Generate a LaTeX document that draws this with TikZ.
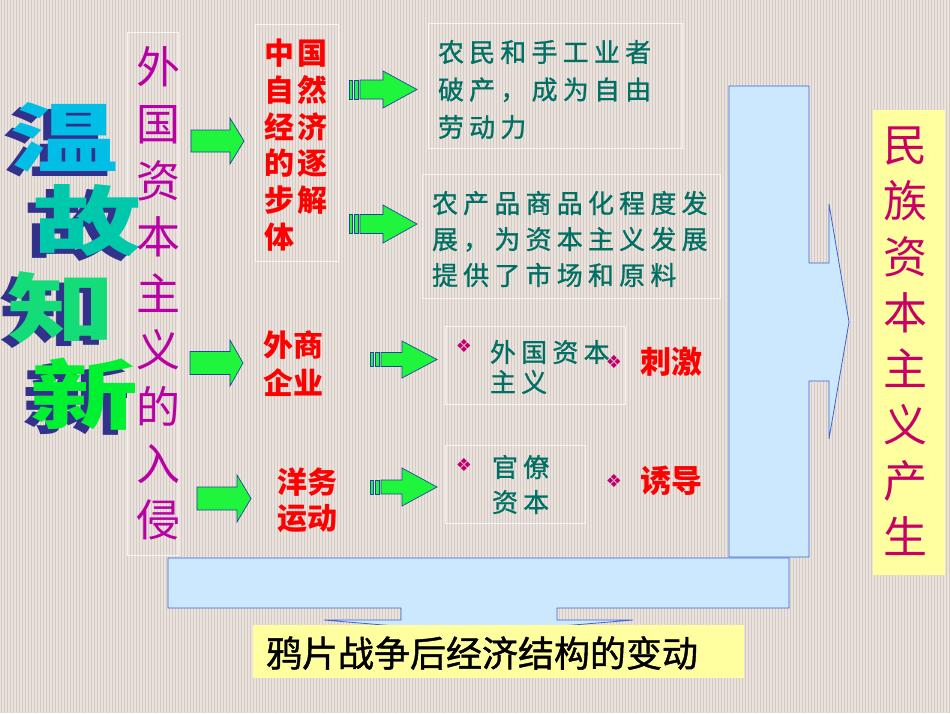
\documentclass[tikz,border=0pt]{standalone}
\usepackage{fontspec}
\newfontfamily\cjk{Noto Sans CJK SC}
\newfontfamily\cjkfb[FakeBold=1.2]{Noto Sans CJK SC}
\newfontfamily\cjkls[LetterSpace=20,FakeBold=1]{Noto Sans CJK SC}
\newfontfamily\cjkred[LetterSpace=10]{Noto Sans CJK SC}
\newfontfamily\dejavu{DejaVu Sans}
\definecolor{bgc}{RGB}{234,226,220}
\definecolor{stripec}{RGB}{214,202,196}
\definecolor{lblue}{RGB}{204,232,255}
\definecolor{bline}{RGB}{60,100,210}
\definecolor{gfill}{RGB}{30,245,60}
\definecolor{gline}{RGB}{30,70,160}
\definecolor{magc}{RGB}{185,0,165}
\definecolor{tealc}{RGB}{0,112,100}
\definecolor{bulc}{RGB}{190,0,110}
\definecolor{crim}{RGB}{200,0,100}
\definecolor{ylw}{RGB}{255,255,160}
\definecolor{shad}{RGB}{50,50,140}
\definecolor{wA}{RGB}{0,190,230}
\definecolor{wB}{RGB}{0,200,170}
\definecolor{wC}{RGB}{20,220,120}
\definecolor{wD}{RGB}{0,240,50}
\tikzset{
  garrow/.style={fill=gfill,draw=gline,line width=0.7pt,line join=miter},
  barrow/.style={fill=lblue,draw=bline,line width=0.8pt},
  framebox/.style={draw=white,line width=0.6pt,draw opacity=0.7},
  txt/.style={inner sep=0pt,outer sep=0pt},
  wgk/.style={txt,font=\fontsize{76}{76}\selectfont\cjk\bfseries},
  bul/.style={txt,text=bulc,font=\fontsize{18}{18}\selectfont\dejavu},
}
% one title character with its shadow, in a single text
\newcommand\titlechar[2]{%
  \scalebox{1.42}[1]{\makebox[0pt][l]{\hspace{-5pt}\raisebox{-5pt}{\textcolor{shad}{#2}}}\textcolor{#1}{#2}}}
\newcommand\myGarrow[6]{%
  \draw[garrow] (#1,#4-#6) -- (#3,#4-#6) -- (#3,#4-#5) -- (#2,#4) -- (#3,#4+#5) -- (#3,#4+#6) -- (#1,#4+#6) -- cycle;}
\newcommand\mySarrow[6]{%
  \draw[garrow] (#1,#4-#6) rectangle (#1+3,#4+#6);
  \draw[garrow] (#1+5,#4-#6) rectangle (#1+9,#4+#6);
  \myGarrow{#1+11}{#2}{#3}{#4}{#5}{#6}}
\begin{document}
\begin{tikzpicture}[x=1pt,y=-1pt]
\useasboundingbox (0,0) rectangle (950,713);
\fill[bgc] (0,0) rectangle (950,713);
\foreach \i in {1,4,...,950} \draw[stripec,line width=0.9pt] (\i,0) -- (\i,713);

% frames
\draw[framebox] (127,32) rectangle (178,555);
\draw[framebox] (255,24) rectangle (338,261);
\draw[framebox] (428,23) rectangle (682,148);
\draw[framebox] (422,174) rectangle (720,298);
\draw[framebox] (445,326) rectangle (625,404);
\draw[framebox] (445,445) rectangle (585,523);

% big blue arrows
\draw[barrow] (168,558) -- (789,558) -- (789,608) -- (557,608) -- (557,620) -- (633,620)
  -- (478,633) -- (324,620) -- (401,620) -- (401,608) -- (168,608) -- cycle;
\draw[barrow] (729,86) -- (809,86) -- (809,263) -- (829,263) -- (829,204) -- (849,322)
  -- (829,439) -- (829,381) -- (809,381) -- (809,557) -- (729,557) -- cycle;

% title chars
\node[wgk] (wen) at (64,140) {\titlechar{wA}{温}};
\node[wgk] (gu) at (87,223) {\titlechar{wB}{故}};
\node[wgk] (zhi) at (61,310) {\titlechar{wC}{知}};
\node[wgk] (xin) at (84,397) {\titlechar{wD}{新}};

% left vertical text
\node[txt,text=magc,align=center,font=\fontsize{44}{56.6}\selectfont\cjk] (wg) at (158,293.5)
  {外\\国\\资\\本\\主\\义\\的\\入\\侵};

% red texts
\node[txt,text=red,align=left,anchor=west,font=\fontsize{30}{36.8}\selectfont\cjkred\bfseries] (zg) at (264,145)
  {中国\\自然\\经济\\的逐\\步解\\体};
\node[txt,text=red,align=left,font=\fontsize{30}{38}\selectfont\cjk\bfseries] (ws) at (293,364) {外商\\企业};
\node[txt,text=red,align=left,font=\fontsize{30}{36}\selectfont\cjk\bfseries] (yw) at (307,500) {洋务\\运动};
\node[txt,text=red,font=\fontsize{31}{31}\selectfont\cjk\bfseries] (cj) at (671,362) {刺激};
\node[txt,text=red,font=\fontsize{31}{31}\selectfont\cjk\bfseries] (yd) at (671,481) {诱导};

% teal texts
\node[txt,text=tealc,align=left,anchor=west,font=\fontsize{26}{37.5}\selectfont\cjkls] (nm) at (438,89.5)
  {农民和手工业者\\破产，成为自由\\劳动力};
\node[txt,text=tealc,align=left,anchor=west,font=\fontsize{26}{36}\selectfont\cjkls] (ncp) at (432,239)
  {农产品商品化程度发\\展，为资本主义发展\\提供了市场和原料};
\node[txt,text=tealc,align=left,anchor=west,font=\fontsize{26}{30}\selectfont\cjkls] (wgzb) at (490,367)
  {外国资本\\主义};
\node[txt,text=tealc,align=left,anchor=west,font=\fontsize{26}{35}\selectfont\cjkls] (glzb) at (492,484.5)
  {官僚\\资本};

% bullets
\node[bul] (b1) at (464,346) {❖};
\node[bul] (b2) at (614,362) {❖};
\node[bul] (b3) at (464,465) {❖};
\node[bul] (b4) at (614,481) {❖};

% green arrows
\myGarrow{191}{244}{230}{141}{23}{11}
\myGarrow{190}{243}{230}{363}{23}{11.5}
\myGarrow{197}{251}{237}{498.5}{23.5}{11.5}
\mySarrow{349}{417}{383}{89.5}{18.5}{9.5}
\mySarrow{349}{417}{383}{224}{19}{9.5}
\mySarrow{370}{437}{402}{359.5}{18.5}{7}
\mySarrow{370}{437}{402}{487}{19}{7}

% yellow boxes
\node[fill=ylw,minimum width=491pt,minimum height=53pt,inner sep=0pt] (ybot) at (498.5,651.5) {};
\node[txt,font=\fontsize{36}{36}\selectfont\cjkfb,text=black] (ypz) at (482,653) {鸦片战争后经济结构的变动};
\node[fill=ylw,minimum width=72pt,minimum height=465pt,inner sep=0pt] (yright) at (909,342.5) {};
\node[txt,text=crim,align=center,font=\fontsize{44}{56}\selectfont\cjk] (mz) at (905,341)
  {民\\族\\资\\本\\主\\义\\产\\生};
\end{tikzpicture}
\end{document}
